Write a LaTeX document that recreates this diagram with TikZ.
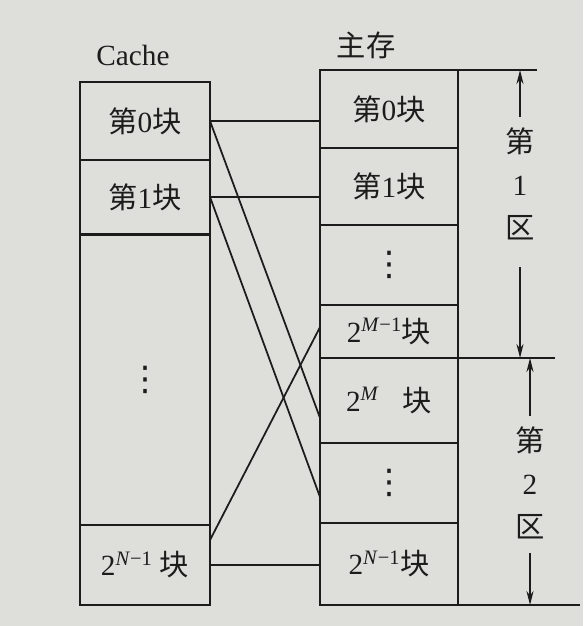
\documentclass[tikz,border=0pt]{standalone}
\usepackage{fontspec}
\setmainfont{Liberation Serif}
\newfontfamily\cjk{Noto Sans CJK SC}
\newfontfamily\symfont{DejaVu Sans}
\usetikzlibrary{arrows.meta,calc}
\definecolor{paper}{RGB}{222,222,219}
\definecolor{ink}{RGB}{28,28,28}
\newcommand\zh[1]{{\cjk #1}}
\newcommand\sups[1]{\textsuperscript{#1}}
\newcommand\vdts{{\symfont\fontsize{29}{29}\selectfont ⋮}}
\begin{document}
\begin{tikzpicture}[x=0.03cm,y=-0.03cm,
  every node/.style={text=ink, font=\fontsize{25}{29}\selectfont},
  blk/.style={draw=ink, line width=1.6pt, inner sep=0pt, outer sep=0pt, minimum width=#1},
  cblk/.style={blk=3.9cm},
  mblk/.style={blk=4.14cm},
  conn/.style={draw=ink, line width=1.5pt},
  zarrow/.style={draw=ink, line width=1.3pt, -{Stealth[length=12pt,width=6pt]}},
  zlbl/.style={align=center, inner sep=0pt, font=\fontsize{25}{37}\selectfont}
]
\fill[paper] (0,0) rectangle (583,626);
\useasboundingbox (0,0) rectangle (583,626);

% labels
\node (cachelbl) at (133,55) {Cache};
\node (mmlbl) at (366,45) {\zh{主存}};

% cache blocks
\node[cblk, minimum height=2.34cm] (c0) at (145,121) {\zh{第}0\zh{块}};
\node[cblk, minimum height=2.22cm] (c1) at (145,197) {\zh{第}1\zh{块}};
\node[cblk, minimum height=8.7cm]  (c2) at (145,380) {\vdts};
\node[cblk, minimum height=2.4cm]  (c3) at (145,565) {2\sups{\textit{N}−1} \zh{块}};

% main memory blocks
\node[mblk, minimum height=2.34cm] (m0) at (389,109) {\zh{第}0\zh{块}};
\node[mblk, minimum height=2.31cm] (m1) at (389,186.5) {\zh{第}1\zh{块}};
\node[mblk, minimum height=2.4cm]  (m2) at (389,265) {\vdts};
\node[mblk, minimum height=1.59cm] (m3) at (389,331.5) {2\sups{\textit{M}−1}\zh{块}};
\node[mblk, minimum height=2.55cm] (m4) at (389,400.5) {2\sups{\textit{M}}\hspace{0.8em}\zh{块}};
\node[mblk, minimum height=2.4cm]  (m5) at (389,483) {\vdts};
\node[mblk, minimum height=2.46cm] (m6) at (389,564) {2\sups{\textit{N}−1}\zh{块}};

% connectors
\draw[conn] (c0.east) -- (c0.east -| m0.west);
\draw[conn] (c1.east) -- (c1.east -| m1.west);
\draw[conn] (c3.east) -- (c3.east -| m6.west);
\draw[conn] (c0.east) -- ([yshift=-0.52cm]m4.west);
\draw[conn] (c1.east) -- ([yshift=-0.42cm]m5.west);
\draw[conn] ([yshift=0.75cm]c3.east) -- ([yshift=0.13cm]m3.west);

% zone boundary lines
\coordinate (t1) at ($(m0.north east)+(2.37cm,0)$);
\coordinate (t2) at ($(m3.south east)+(2.91cm,0)$);
\coordinate (t3) at ($(m6.south east)+(3.66cm,0)$);
\draw[conn] (m0.north east) -- (t1);
\draw[conn] (m3.south east) -- (t2);
\draw[conn] (m6.south east) -- (t3);

% zone labels and arrows
\node[zlbl] (z1) at (520,184) {\zh{第}\\1\\\zh{区}};
\node[zlbl] (z2) at (530,483) {\zh{第}\\2\\\zh{区}};
\draw[zarrow] ([yshift=0.3cm]z1.north) -- (z1.north |- m0.north);
\draw[zarrow] ([yshift=-0.8cm]z1.south) -- (z1.south |- m3.south);
\draw[zarrow] ([yshift=0.3cm]z2.north) -- (z2.north |- m4.north);
\draw[zarrow] ([yshift=-0.4cm]z2.south) -- (z2.south |- m6.south);
\end{tikzpicture}
\end{document}
